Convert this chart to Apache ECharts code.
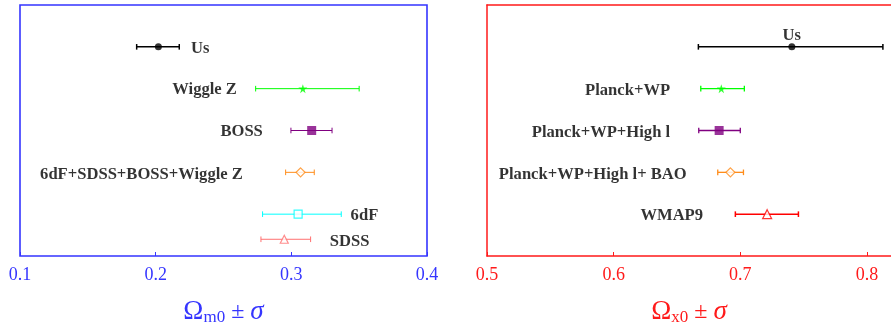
<!DOCTYPE html>
<html><head><meta charset="utf-8">
<script src="https://cdn.jsdelivr.net/npm/echarts@6/dist/echarts.min.js"></script>
<style>html,body{margin:0;padding:0;background:#fff}#c{width:891px;height:331px}</style>
</head><body><div id="c"></div>
<script>
// ---- Left panel: Omega_m0 ----
const leftNames = ['Us', 'Wiggle Z', 'BOSS', '6dF+SDSS+BOSS+Wiggle Z', '6dF', 'SDSS'];
const leftValue = [0.202, 0.3085, 0.315, 0.3068, 0.305, 0.2948];
const leftLow   = [0.186, 0.2737, 0.2997, 0.2958, 0.2788, 0.2776];
const leftHigh  = [0.2174, 0.350, 0.330, 0.3169, 0.3368, 0.3142];
const leftRow   = [5, 4, 3, 2, 1, 0.4];
const leftTicks = [0.1, 0.2, 0.3, 0.4];

// ---- Right panel: Omega_x0 ----
const rightNames = ['Us', 'Planck+WP', 'Planck+WP+High l', 'Planck+WP+High l+ BAO', 'WMAP9'];
const rightValue = [0.7407, 0.685, 0.6833, 0.6922, 0.7212];
const rightLow   = [0.6669, 0.6688, 0.6672, 0.6822, 0.6961];
const rightHigh  = [0.8126, 0.7032, 0.700, 0.7025, 0.7459];
const rightRow   = [5, 4, 3, 2, 1];
const rightTicks = [0.5, 0.6, 0.7, 0.8];
const rightMax = 0.819;

// layout: label anchors [x, y, align]
const leftLabelPos = [[0.226, 5, 'left'], [0.2599, 4.03, 'right'], [0.279, 3.02, 'right'], [0.2643, 2.0, 'right'], [0.3437, 1.0, 'left'], [0.3284, 0.4, 'left']];
const rightLabelPos = [[0.7407, 5.31, 'center'], [0.6446, 4.0, 'right'], [0.6446, 3.0, 'right'], [0.6577, 2.0, 'right'], [0.6706, 1.0, 'right']];

const leftColors = ['#000000', '#00ff00', '#800080', '#ff8c1a', '#00ffff', '#ff7070'];
const rightColors = ['#000000', '#00ff00', '#800080', '#ff8c1a', '#ff0000'];
const starPath = 'path://M50,0 L61,35 L98,35 L68,57 L79,92 L50,70 L21,92 L32,57 L2,35 L39,35 Z';
const leftSymbols = [['circle', 7, true], [starPath, 9, true], ['rect', 9, true], ['diamond', 9, false], ['rect', 8, false], ['triangle', 8, false]];
const rightSymbols = [['circle', 7, true], [starPath, 9, true], ['rect', 9, true], ['diamond', 9, false], ['triangle', 9, false]];

const serif = '"Liberation Serif", "DejaVu Serif", serif';
const BLUE = '#3535ff', RED = '#ff1a1a';

function errSeries(idx, lo, hi, row, colors, lw) {
  return {
    type: 'custom', xAxisIndex: idx, yAxisIndex: idx, silent: true, z: 3,
    data: lo.map((l, i) => [l, hi[i], row[i], i]),
    renderItem: function (params, api) {
      const a = api.coord([api.value(0), api.value(2)]);
      const b = api.coord([api.value(1), api.value(2)]);
      const c = colors[api.value(3)];
      const st = { stroke: c, lineWidth: lw[api.value(3)] };
      const h = 2.8;
      return { type: 'group', children: [
        { type: 'line', shape: { x1: a[0], y1: a[1], x2: b[0], y2: b[1] }, style: st },
        { type: 'line', shape: { x1: a[0], y1: a[1] - h, x2: a[0], y2: a[1] + h }, style: st },
        { type: 'line', shape: { x1: b[0], y1: b[1] - h, x2: b[0], y2: b[1] + h }, style: st }
      ]};
    }
  };
}
function markerSeries(idx, val, row, colors, syms) {
  return {
    type: 'scatter', xAxisIndex: idx, yAxisIndex: idx, silent: true, z: 5,
    data: val.map((v, i) => ({
      value: [v, row[i]], symbol: syms[i][0], symbolSize: syms[i][1],
      itemStyle: syms[i][2] ? { color: colors[i], borderWidth: 0 } : { color: '#ffffff', borderColor: colors[i], borderWidth: 1.2 }
    }))
  };
}
function labelSeries(idx, names, pos) {
  return {
    type: 'scatter', xAxisIndex: idx, yAxisIndex: idx, silent: true, z: 6, symbolSize: 0,
    data: names.map((n, i) => ({
      value: [pos[i][0], pos[i][1]],
      label: { show: true, position: 'inside', offset: [0, 2], formatter: n, align: pos[i][2], verticalAlign: 'middle',
        color: '#000', fontFamily: serif, fontWeight: 'bold', fontSize: 16.6 }
    }))
  };
}
function xAxisDef(idx, min, max, color, sub, lineW) {
  return {
    gridIndex: idx, type: 'value', min: min, max: max, interval: 0.1,
    axisLine: { show: lineW > 0, onZero: false, lineStyle: { color: color, width: lineW } }, splitLine: { show: false },
    axisTick: { show: true, inside: true, length: 4, lineStyle: { color: color, width: 1 } },
    axisLabel: { color: color, fontFamily: serif, fontSize: 18, margin: 10, showMaxLabel: idx === 0,
      formatter: v => v.toFixed(1) },
    name: '{o|Ω}{s|' + sub + '}{t| ± }{g|σ}', nameLocation: 'middle', nameGap: 42,
    nameTextStyle: { color: color, fontFamily: serif, rich: {
      o: { fontSize: 27, color: color, fontFamily: serif, lineHeight: 28 },
      s: { fontSize: 17, color: color, fontFamily: serif, verticalAlign: 'bottom', lineHeight: 28, padding: [14, 0, 0, 0] },
      t: { fontSize: 24, color: color, fontFamily: serif, lineHeight: 28 },
      g: { fontSize: 27, color: color, fontFamily: serif, fontStyle: 'italic', lineHeight: 28 }
    } }
  };
}

const chart = echarts.init(document.getElementById('c'));
chart.setOption({
  animation: false,
  backgroundColor: '#ffffff',
  grid: [
    { left: 20, width: 407, top: 5, height: 252, show: true, borderColor: BLUE, borderWidth: 1.6, backgroundColor: 'transparent' },
    { left: 487, right: 0, top: 5, height: 251, show: false }
  ],
  xAxis: [
    xAxisDef(0, leftTicks[0], leftTicks[leftTicks.length - 1], BLUE, 'm0', 0),
    xAxisDef(1, rightTicks[0], rightMax, RED, 'x0', 1.5),
    { gridIndex: 1, type: 'value', position: 'top', min: rightTicks[0], max: rightMax,
      axisLine: { show: true, onZero: false, lineStyle: { color: RED, width: 1.5 } },
      axisTick: { show: false }, axisLabel: { show: false }, splitLine: { show: false } }
  ],
  yAxis: [
    { gridIndex: 0, type: 'value', min: 0, max: 6, show: false },
    { gridIndex: 1, type: 'value', min: 0, max: 6, axisLine: { show: true, onZero: false, lineStyle: { color: RED, width: 1.5 } },
      axisTick: { show: false }, axisLabel: { show: false }, splitLine: { show: false } }
  ],
  series: [
    errSeries(0, leftLow, leftHigh, leftRow, leftColors, [1.5, 1, 1, 1, 1, 1]),
    markerSeries(0, leftValue, leftRow, leftColors, leftSymbols),
    labelSeries(0, leftNames, leftLabelPos),
    errSeries(1, rightLow, rightHigh, rightRow, rightColors, [1.5, 1.3, 1.3, 1.3, 1.5]),
    markerSeries(1, rightValue, rightRow, rightColors, rightSymbols),
    labelSeries(1, rightNames, rightLabelPos)
  ]
});
</script></body></html>
